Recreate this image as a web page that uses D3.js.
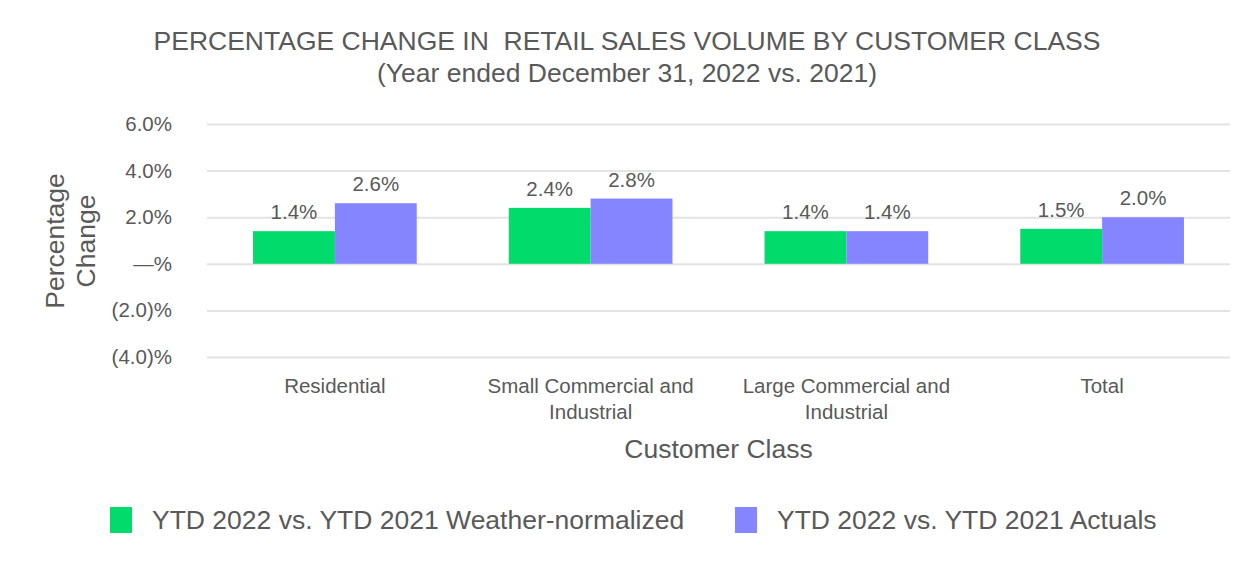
<!DOCTYPE html>
<html><head><meta charset="utf-8">
<script src="https://cdn.jsdelivr.net/npm/d3@7"></script>
<style>body{margin:0;background:#fff}svg{display:block;font-family:"Liberation Sans",Arial,sans-serif}</style>
</head><body><svg id="c" width="1260" height="580"></svg>
<script>
const categories = [["Residential"],["Small Commercial and","Industrial"],["Large Commercial and","Industrial"],["Total"]];
const seriesNames = ["YTD 2022 vs. YTD 2021 Weather-normalized","YTD 2022 vs. YTD 2021 Actuals"];
const weatherNormalized = [1.4, 2.4, 1.4, 1.5];
const actuals = [2.6, 2.8, 1.4, 2.0];
const yTicks = [-4, -2, 0, 2, 4, 6];
const yTickLabels = ["(4.0)%","(2.0)%","—%","2.0%","4.0%","6.0%"];
const colors = ["#00DB6B","#8585FF"];
const textColor = "#595959";

(function(){
const svg = d3.select("#c");
const pLeft = 207, pRight = 1230, pTop = 124, pBottom = 357;
const x = d3.scaleBand().domain(d3.range(categories.length)).range([pLeft, pRight]).paddingInner(0.36).paddingOuter(0.18);
const y = d3.scaleLinear().domain([-4, 6]).range([pBottom, pTop]);
const xs = d3.scaleBand().domain([0,1]).range([0, x.bandwidth()]);

svg.append("text").attr("x", 627).attr("y", 50).attr("text-anchor","middle").attr("font-size",26.5).attr("fill",textColor).style("white-space","pre").text("PERCENTAGE CHANGE IN  RETAIL SALES VOLUME BY CUSTOMER CLASS");
svg.append("text").attr("x", 627).attr("y", 82).attr("text-anchor","middle").attr("font-size",26.5).attr("fill",textColor).text("(Year ended December 31, 2022 vs. 2021)");

const yAxis = d3.axisLeft(y).tickValues(yTicks).tickFormat((d,i)=>yTickLabels[i]).tickSize(-(pRight-pLeft)).tickPadding(35);
const g = svg.append("g").attr("transform",`translate(${pLeft},0)`).call(yAxis);
g.select(".domain").remove();
g.selectAll(".tick line").attr("stroke","#e3e3e3").attr("stroke-width",2);
g.selectAll(".tick text").attr("font-size",20.5).attr("fill",textColor).attr("font-family","Liberation Sans, Arial, sans-serif");

const data = [weatherNormalized, actuals];
data.forEach((vals, s) => {
  svg.append("g").selectAll("rect").data(vals).join("rect")
    .attr("x",(d,i)=>x(i)+xs(s)).attr("width",xs.bandwidth())
    .attr("y",d=>y(Math.max(0,d))).attr("height",d=>Math.abs(y(d)-y(0)))
    .attr("fill",colors[s]);
  svg.append("g").selectAll("text").data(vals).join("text")
    .attr("x",(d,i)=>x(i)+xs(s)+xs.bandwidth()/2).attr("y",d=>y(d)-12)
    .attr("text-anchor","middle").attr("font-size",20.5).attr("fill",textColor)
    .text(d=>d.toFixed(1)+"%");
});

categories.forEach((lines,i)=>{
  const t = svg.append("text").attr("text-anchor","middle").attr("font-size",20.5).attr("fill",textColor);
  lines.forEach((l,j)=>t.append("tspan").attr("x",x(i)+x.bandwidth()/2).attr("y",393+j*26).text(l));
});

svg.append("text").attr("x",(pLeft+pRight)/2).attr("y",458).attr("text-anchor","middle").attr("font-size",26.5).attr("fill",textColor).text("Customer Class");
const yt = svg.append("text").attr("transform","translate(0,241) rotate(-90)").attr("text-anchor","middle").attr("font-size",26.5).attr("fill",textColor);
yt.append("tspan").attr("x",0).attr("y",64).text("Percentage");
yt.append("tspan").attr("x",0).attr("y",95).text("Change");

const legX = [110, 735];
seriesNames.forEach((n,s)=>{
  svg.append("rect").attr("x",legX[s]).attr("y",507).attr("width",22).attr("height",26).attr("fill",colors[s]);
  svg.append("text").attr("x",legX[s]+42).attr("y",529).attr("font-size",26.5).attr("fill",textColor).text(n);
});
})();
</script></body></html>
